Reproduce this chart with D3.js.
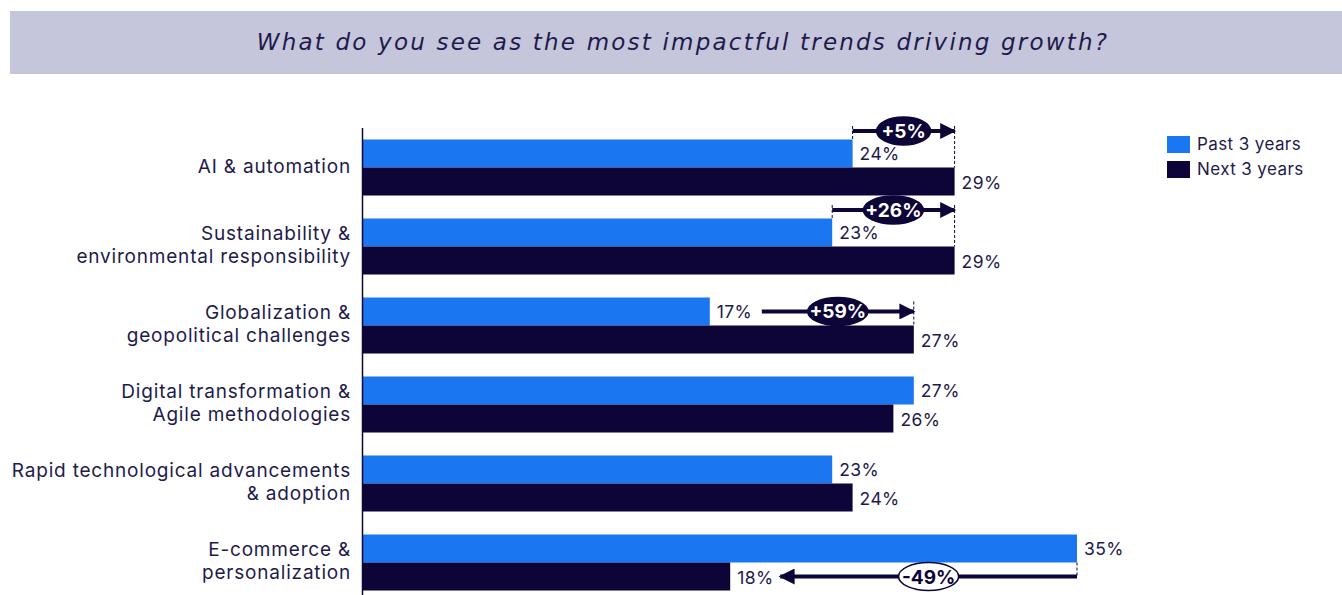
<!DOCTYPE html>
<html>
<head>
<meta charset="utf-8">
<script src="https://cdn.jsdelivr.net/npm/d3@7"></script>
<style>
  body { margin: 0; background: #fff; }
  svg { display: block; }
</style>
</head>
<body>
<div id="vis"></div>
<script>
var w = 1342;
var h = 595;

// data
var categories = ["AI & automation", "Sustainability &\nenvironmental responsibility", "Globalization &\ngeopolitical challenges",
  "Digital transformation &\nAgile methodologies", "Rapid technological advancements\n& adoption", "E-commerce &\npersonalization"];
var past3 = [24, 23, 17, 27, 23, 35];
var next3 = [29, 29, 27, 26, 24, 18];
var seriesNames = ["Past 3 years", "Next 3 years"];
// growth annotations: which row, and the label
var changeRows = [0, 1, 2, 5];
var changeLabels = ["+5%", "+26%", "+59%", "-49%"];
// where the arrow sits: above the blue bar, inside the blue row, inside the dark row
var changePlace = ["above", "above", "blue", "dark"];

var blue = "#1b76f2";
var dark = "#0d0438";
var txt = "#1e1b4b";

var svg = d3.select("#vis")
  .append("svg")
  .attr("width", w)
  .attr("height", h);

// title band
svg.append("rect")
  .attr("x", 10).attr("y", 11)
  .attr("width", w - 10).attr("height", 63)
  .attr("fill", "#c5c5dc");
svg.append("text")
  .text("What do you see as the most impactful trends driving growth?")
  .attr("x", 683).attr("y", 50)
  .attr("text-anchor", "middle")
  .attr("fill", txt)
  .style("font-family", "DejaVu Sans")
  .style("font-style", "italic")
  .style("font-size", "23px")
  .style("letter-spacing", "2.2px");

var x = d3.scaleLinear().domain([0, 35]).range([363, 1077]);
var y = d3.scaleBand().domain(categories).range([128, 602]).paddingInner(0.291).paddingOuter(0.1455);
var bh = y.bandwidth() / 2;

var defs = svg.append("defs");
defs.append("marker")
  .attr("id", "head")
  .attr("viewBox", "0 0 10 10")
  .attr("refX", 9).attr("refY", 5)
  .attr("markerWidth", 4.2).attr("markerHeight", 4)
  .attr("markerUnits", "strokeWidth")
  .attr("orient", "auto")
  .append("path")
  .attr("d", "M0,0 L10,5 L0,10 Z")
  .attr("fill", dark);

// bars
var g = svg.selectAll(".grp")
  .data(categories)
  .enter()
  .append("g")
  .attr("class", "grp");

g.append("rect")
  .attr("x", x(0))
  .attr("y", function(d) { return y(d); })
  .attr("width", function(d, i) { return x(past3[i]) - x(0); })
  .attr("height", bh)
  .attr("fill", blue);

g.append("rect")
  .attr("x", x(0))
  .attr("y", function(d) { return y(d) + bh; })
  .attr("width", function(d, i) { return x(next3[i]) - x(0); })
  .attr("height", bh)
  .attr("fill", dark);

g.append("text")
  .text(function(d, i) { return past3[i] + "%"; })
  .attr("x", function(d, i) { return x(past3[i]) + 7; })
  .attr("y", function(d) { return y(d) + bh / 2 + 7; })
  .attr("fill", txt)
  .style("font-family", "Inter")
  .style("font-size", "17.5px")
  .style("letter-spacing", "0.4px");

g.append("text")
  .text(function(d, i) { return next3[i] + "%"; })
  .attr("x", function(d, i) { return x(next3[i]) + 7; })
  .attr("y", function(d) { return y(d) + bh * 1.5 + 7; })
  .attr("fill", txt)
  .style("font-family", "Inter")
  .style("font-size", "17.5px")
  .style("letter-spacing", "0.4px");

// category labels
var lab = g.append("text")
  .attr("text-anchor", "end")
  .attr("fill", txt)
  .style("font-family", "Inter")
  .style("font-size", "19px")
  .style("letter-spacing", "0.8px");
lab.each(function(d) {
  var lines = d.split("\n");
  var cy = y(d) + bh;
  var t = d3.select(this);
  lines.forEach(function(l, k) {
    t.append("tspan")
      .attr("x", 351)
      .attr("y", cy + 5 + (k - (lines.length - 1) / 2) * 23)
      .text(l);
  });
});

// axis line
svg.append("line")
  .attr("x1", 362.5).attr("x2", 362.5)
  .attr("y1", 128).attr("y2", h)
  .attr("stroke", dark)
  .attr("stroke-width", 1.5);

// change annotations
changeRows.forEach(function(r, k) {
  var c = categories[r];
  var p = changePlace[k];
  var from = x(past3[r]);
  var to = x(next3[r]);
  var ay, x1, x2;
  if (p == "above") {
    ay = y(c) - 8.5;
    x1 = from; x2 = to;
    svg.append("line")
      .attr("x1", from).attr("x2", from)
      .attr("y1", ay - 5).attr("y2", y(c))
      .attr("stroke", dark).attr("stroke-width", 1).attr("stroke-dasharray", "3,2");
    svg.append("line")
      .attr("x1", to).attr("x2", to)
      .attr("y1", ay - 5).attr("y2", y(c) + bh)
      .attr("stroke", dark).attr("stroke-width", 1).attr("stroke-dasharray", "3,2");
  } else if (p == "blue") {
    ay = y(c) + bh / 2;
    x1 = from + 52; x2 = to;
    svg.append("line")
      .attr("x1", to).attr("x2", to)
      .attr("y1", ay - 10).attr("y2", y(c) + bh)
      .attr("stroke", dark).attr("stroke-width", 1).attr("stroke-dasharray", "3,2");
  } else {
    ay = y(c) + bh * 1.5;
    x1 = from; x2 = to + 50;
    svg.append("line")
      .attr("x1", from).attr("x2", from)
      .attr("y1", y(c) + bh).attr("y2", ay)
      .attr("stroke", dark).attr("stroke-width", 1).attr("stroke-dasharray", "3,2");
  }
  svg.append("line")
    .attr("x1", x1).attr("x2", x2)
    .attr("y1", ay).attr("y2", ay)
    .attr("stroke", dark)
    .attr("stroke-width", 4)
    .attr("marker-end", "url(#head)");
  var neg = changeLabels[k].charAt(0) == "-";
  var mx = (x1 + x2) / 2;
  svg.append("ellipse")
    .attr("cx", mx).attr("cy", ay)
    .attr("rx", changeLabels[k].length > 3 ? 30 : 27).attr("ry", 14)
    .attr("fill", neg ? "#fff" : dark)
    .attr("stroke", dark)
    .attr("stroke-width", 1.5);
  svg.append("text")
    .text(changeLabels[k])
    .attr("x", mx).attr("y", ay + 7)
    .attr("text-anchor", "middle")
    .attr("fill", neg ? dark : "#fff")
    .style("font-family", "Inter")
    .style("font-weight", "bold")
    .style("font-size", "19px");
});

// legend
var leg = svg.selectAll(".leg")
  .data(seriesNames)
  .enter()
  .append("g")
  .attr("class", "leg")
  .attr("transform", function(d, i) { return "translate(1167," + (136 + i * 25) + ")"; });
leg.append("rect")
  .attr("width", 23).attr("height", 17)
  .attr("fill", function(d, i) { return i == 0 ? blue : dark; });
leg.append("text")
  .text(function(d) { return d; })
  .attr("x", 30).attr("y", 14)
  .attr("fill", txt)
  .style("font-family", "Inter")
  .style("font-size", "17px")
  .style("letter-spacing", "0.4px");
</script>
</body>
</html>
